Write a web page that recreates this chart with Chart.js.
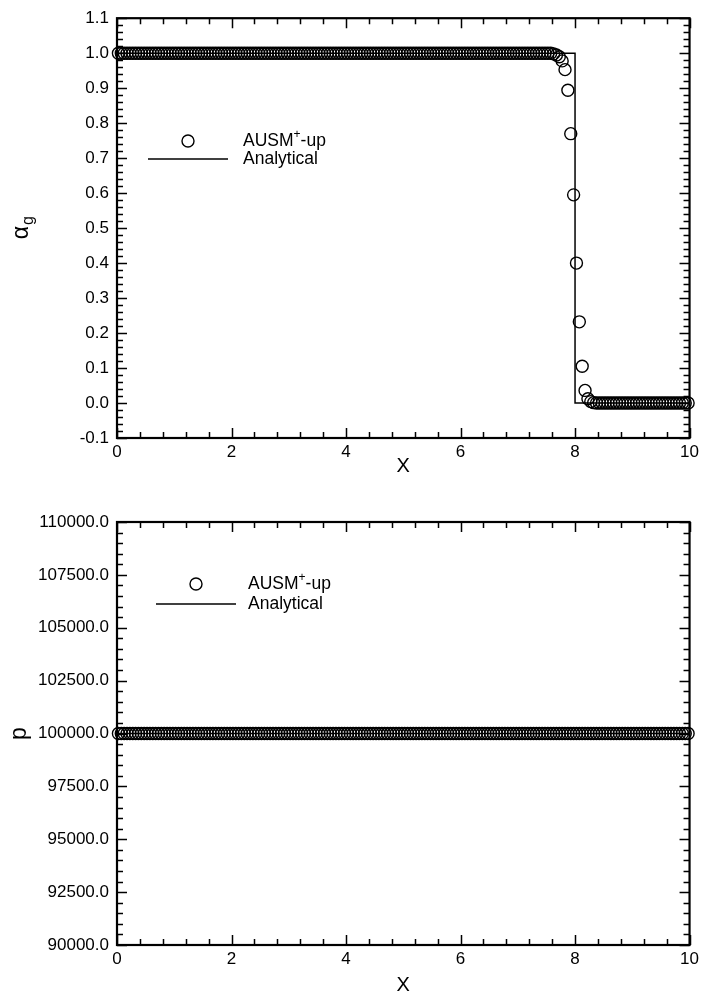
<!DOCTYPE html>
<html>
<head>
<meta charset="utf-8">
<script src="https://cdn.jsdelivr.net/npm/chart.js@4.4.1/dist/chart.umd.min.js"></script>
<style>
body { margin: 0; background: #fff; }
canvas { position: absolute; left: 0; }
#alphaChart { top: 0; }
#pChart { top: 500px; }
</style>
</head>
<body>
<canvas id="alphaChart" width="703" height="500"></canvas>
<canvas id="pChart" width="703" height="499"></canvas>
<script>
// cell centres of the 200-cell mesh
const xCells = [
  0.025,0.075,0.125,0.175,0.225,0.275,0.325,0.375,0.425,0.475,
  0.525,0.575,0.625,0.675,0.725,0.775,0.825,0.875,0.925,0.975,
  1.025,1.075,1.125,1.175,1.225,1.275,1.325,1.375,1.425,1.475,
  1.525,1.575,1.625,1.675,1.725,1.775,1.825,1.875,1.925,1.975,
  2.025,2.075,2.125,2.175,2.225,2.275,2.325,2.375,2.425,2.475,
  2.525,2.575,2.625,2.675,2.725,2.775,2.825,2.875,2.925,2.975,
  3.025,3.075,3.125,3.175,3.225,3.275,3.325,3.375,3.425,3.475,
  3.525,3.575,3.625,3.675,3.725,3.775,3.825,3.875,3.925,3.975,
  4.025,4.075,4.125,4.175,4.225,4.275,4.325,4.375,4.425,4.475,
  4.525,4.575,4.625,4.675,4.725,4.775,4.825,4.875,4.925,4.975,
  5.025,5.075,5.125,5.175,5.225,5.275,5.325,5.375,5.425,5.475,
  5.525,5.575,5.625,5.675,5.725,5.775,5.825,5.875,5.925,5.975,
  6.025,6.075,6.125,6.175,6.225,6.275,6.325,6.375,6.425,6.475,
  6.525,6.575,6.625,6.675,6.725,6.775,6.825,6.875,6.925,6.975,
  7.025,7.075,7.125,7.175,7.225,7.275,7.325,7.375,7.425,7.475,
  7.525,7.575,7.625,7.675,7.725,7.775,7.825,7.875,7.925,7.975,
  8.025,8.075,8.125,8.175,8.225,8.275,8.325,8.375,8.425,8.475,
  8.525,8.575,8.625,8.675,8.725,8.775,8.825,8.875,8.925,8.975,
  9.025,9.075,9.125,9.175,9.225,9.275,9.325,9.375,9.425,9.475,
  9.525,9.575,9.625,9.675,9.725,9.775,9.825,9.875,9.925,9.975
];

// AUSM+-up void fraction, ten cells per row
const alphaAusm = [
  1,1,1,1,1,1,1,1,1,1,
  1,1,1,1,1,1,1,1,1,1,
  1,1,1,1,1,1,1,1,1,1,
  1,1,1,1,1,1,1,1,1,1,
  1,1,1,1,1,1,1,1,1,1,
  1,1,1,1,1,1,1,1,1,1,
  1,1,1,1,1,1,1,1,1,1,
  1,1,1,1,1,1,1,1,1,1,
  1,1,1,1,1,1,1,1,1,1,
  1,1,1,1,1,1,1,1,1,1,
  1,1,1,1,1,1,1,1,1,1,
  1,1,1,1,1,1,1,1,1,1,
  1,1,1,1,1,1,1,1,1,1,
  1,1,1,1,1,1,1,1,1,1,
  1,1,1,1,1,1,1,1,1,1,
  1,1,0.998,0.995,0.99,0.978,0.953,0.894,0.77,0.595,
  0.40,0.232,0.105,0.036,0.012,0.004,0.001,0,0,0,
  0,0,0,0,0,0,0,0,0,0,
  0,0,0,0,0,0,0,0,0,0,
  0,0,0,0,0,0,0,0,0,0
];

// AUSM+-up pressure, ten cells per row
const pAusm = [
  100000,100000,100000,100000,100000,100000,100000,100000,100000,100000,
  100000,100000,100000,100000,100000,100000,100000,100000,100000,100000,
  100000,100000,100000,100000,100000,100000,100000,100000,100000,100000,
  100000,100000,100000,100000,100000,100000,100000,100000,100000,100000,
  100000,100000,100000,100000,100000,100000,100000,100000,100000,100000,
  100000,100000,100000,100000,100000,100000,100000,100000,100000,100000,
  100000,100000,100000,100000,100000,100000,100000,100000,100000,100000,
  100000,100000,100000,100000,100000,100000,100000,100000,100000,100000,
  100000,100000,100000,100000,100000,100000,100000,100000,100000,100000,
  100000,100000,100000,100000,100000,100000,100000,100000,100000,100000,
  100000,100000,100000,100000,100000,100000,100000,100000,100000,100000,
  100000,100000,100000,100000,100000,100000,100000,100000,100000,100000,
  100000,100000,100000,100000,100000,100000,100000,100000,100000,100000,
  100000,100000,100000,100000,100000,100000,100000,100000,100000,100000,
  100000,100000,100000,100000,100000,100000,100000,100000,100000,100000,
  100000,100000,100000,100000,100000,100000,100000,100000,100000,100000,
  100000,100000,100000,100000,100000,100000,100000,100000,100000,100000,
  100000,100000,100000,100000,100000,100000,100000,100000,100000,100000,
  100000,100000,100000,100000,100000,100000,100000,100000,100000,100000,
  100000,100000,100000,100000,100000,100000,100000,100000,100000,100000
];

// analytical solutions
const alphaExactX = [0, 8, 8, 10];
const alphaExactY = [1, 1, 0, 0];
const pExactX = [0, 10];
const pExactY = [100000, 100000];

const xTicks = [0, 2, 4, 6, 8, 10];

const FONT = "'Liberation Sans', Arial, Helvetica, sans-serif";

function pairs(xs, ys) {
    return xs.map((x, i) => ({ x: x, y: ys[i] }));
}

// box frame with inward ticks on all four sides, titles and legend
const frameTicks = {
    id: "frameTicks",
    afterDatasetsDraw(chart, args, o) {
        const { ctx, chartArea: a, scales: { x, y } } = chart;
        ctx.save();
        ctx.strokeStyle = "#000";
        ctx.lineWidth = 1.5;
        ctx.beginPath();
        let n = Math.round((x.max - x.min) / o.xMinor);
        for (let k = 0; k <= n; k++) {
            const px = Math.round(x.getPixelForValue(x.min + k * o.xMinor)) + 0.5;
            const len = k % 5 === 0 ? 10 : 6;
            ctx.moveTo(px, a.bottom); ctx.lineTo(px, a.bottom - len);
            ctx.moveTo(px, a.top); ctx.lineTo(px, a.top + len);
        }
        n = Math.round((y.max - y.min) / o.yMinor);
        for (let k = 0; k <= n; k++) {
            const py = Math.round(y.getPixelForValue(y.min + k * o.yMinor)) + 0.5;
            const len = k % 5 === 0 ? 10 : 6;
            ctx.moveTo(a.left, py); ctx.lineTo(a.left + len, py);
            ctx.moveTo(a.right, py); ctx.lineTo(a.right - len, py);
        }
        ctx.stroke();
        ctx.lineWidth = 2.2;
        ctx.strokeRect(a.left, a.top, a.right - a.left, a.bottom - a.top);

        // x axis title
        ctx.fillStyle = "#000";
        ctx.font = "20px " + FONT;
        ctx.textAlign = "center";
        ctx.textBaseline = "middle";
        ctx.fillText("X", (a.left + a.right) / 2, a.bottom + o.xTitleOffset);

        // y axis title, rotated
        ctx.save();
        ctx.translate(o.yTitleX, (a.top + a.bottom) / 2);
        ctx.rotate(-Math.PI / 2);
        ctx.textAlign = "left";
        ctx.font = "23px " + FONT;
        const w1 = ctx.measureText(o.yTitle).width;
        let w2 = 0;
        if (o.yTitleSub) {
            ctx.font = "16px " + FONT;
            w2 = ctx.measureText(o.yTitleSub).width;
        }
        const start = -(w1 + w2) / 2;
        ctx.font = "23px " + FONT;
        ctx.fillText(o.yTitle, start, 0);
        if (o.yTitleSub) {
            ctx.font = "16px " + FONT;
            ctx.fillText(o.yTitleSub, start + w1 + 1, 7);
        }
        ctx.restore();

        // legend
        const L = o.legend;
        ctx.lineWidth = 1.4;
        ctx.beginPath();
        ctx.arc(L.cx, L.cy, 6, 0, Math.PI * 2);
        ctx.stroke();
        ctx.beginPath();
        ctx.lineWidth = 1.5;
        ctx.moveTo(L.lineX0, L.lineY); ctx.lineTo(L.lineX1, L.lineY);
        ctx.stroke();
        ctx.textAlign = "left";
        ctx.font = "17.5px " + FONT;
        let tx = L.textX;
        ctx.fillText("AUSM", tx, L.cy);
        tx += ctx.measureText("AUSM").width;
        ctx.font = "12px " + FONT;
        ctx.fillText("+", tx, L.cy - 6);
        tx += ctx.measureText("+").width;
        ctx.font = "17.5px " + FONT;
        ctx.fillText("-up", tx, L.cy);
        ctx.fillText("Analytical", L.textX, L.lineY);
        ctx.restore();
    }
};

function makeChart(id, ausmY, exactX, exactY, yOpts, pad, xHeight, plug) {
    return new Chart(document.getElementById(id), {
        data: {
            datasets: [
                {
                    type: "line",
                    label: "Analytical",
                    data: pairs(exactX, exactY),
                    borderColor: "#000",
                    borderWidth: 1.5,
                    pointRadius: 0,
                    fill: false,
                    tension: 0
                },
                {
                    type: "scatter",
                    label: "AUSM+-up",
                    data: pairs(xCells, ausmY),
                    borderColor: "#000",
                    backgroundColor: "rgba(0,0,0,0)",
                    borderWidth: 1.4,
                    pointRadius: 6,
                    pointHoverRadius: 6,
                    clip: false
                }
            ]
        },
        options: {
            responsive: false,
            animation: false,
            devicePixelRatio: 1,
            events: [],
            layout: { padding: pad },
            plugins: { legend: { display: false }, tooltip: { enabled: false }, frameTicks: plug },
            scales: {
                x: {
                    type: "linear",
                    min: 0, max: 10,
                    afterBuildTicks: s => { s.ticks = xTicks.map(v => ({ value: v })); },
                    afterFit: s => { s.height = xHeight; },
                    grid: { display: false, drawTicks: false },
                    border: { display: false },
                    ticks: { color: "#000", font: { family: FONT, size: 17 }, padding: 4, maxRotation: 0, autoSkip: false }
                },
                y: {
                    type: "linear",
                    min: yOpts.min, max: yOpts.max,
                    afterFit: s => { s.width = 117; },
                    grid: { display: false, drawTicks: false },
                    border: { display: false },
                    ticks: {
                        stepSize: yOpts.step,
                        autoSkip: false,
                        color: "#000",
                        font: { family: FONT, size: 17 },
                        padding: 8,
                        callback: v => (Math.abs(v) < 1e-9 ? 0 : v).toFixed(1)
                    }
                }
            }
        },
        plugins: [frameTicks]
    });
}

makeChart("alphaChart", alphaAusm, alphaExactX, alphaExactY,
    { min: -0.1, max: 1.1, step: 0.1 },
    { top: 15, right: 11, left: 0, bottom: 0 }, 62,
    {
        xMinor: 0.4, yMinor: 0.02, xTitleOffset: 28, yTitleX: 22,
        yTitle: "\u03b1", yTitleSub: "g",
        legend: { cx: 188, cy: 141, lineX0: 148, lineX1: 228, lineY: 159, textX: 243 }
    });

makeChart("pChart", pAusm, pExactX, pExactY,
    { min: 90000, max: 110000, step: 2500 },
    { top: 22, right: 11, left: 0, bottom: 0 }, 54,
    {
        xMinor: 0.4, yMinor: 500, xTitleOffset: 40, yTitleX: 20,
        yTitle: "p", yTitleSub: "",
        legend: { cx: 196, cy: 84, lineX0: 156, lineX1: 236, lineY: 104, textX: 248 }
    });
</script>
</body>
</html>
